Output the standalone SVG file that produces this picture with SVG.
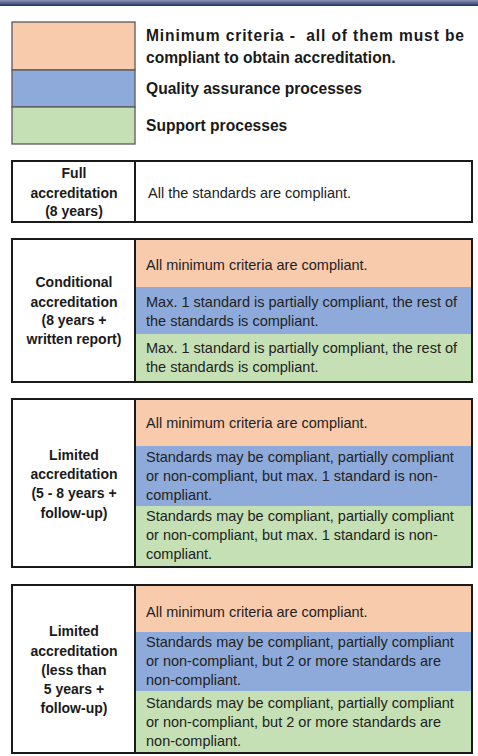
<svg xmlns="http://www.w3.org/2000/svg" width="478" height="756" viewBox="0 0 478 756">
<defs>
<linearGradient id="bar" x1="0" y1="0" x2="0" y2="1">
<stop offset="0" stop-color="#8d97b5"/>
<stop offset="0.6" stop-color="#4a5a85"/>
<stop offset="1" stop-color="#1f3263"/>
</linearGradient>
</defs>
<style>
.bg{fill:#ffffff}
.o{fill:#f8cbad}
.b{fill:#8eaadb}
.g{fill:#c5e0b4}
.frame{fill:none;stroke:#1a1a1a;stroke-width:2}
.div{stroke:#1a1a1a;stroke-width:2}
.lg{stroke:#5a5a5a;stroke-width:1.3}
.leg{font-family:"Liberation Sans",Arial,sans-serif;font-weight:bold;font-size:15.6px;fill:#1a1a1a}
.lab{font-family:"Liberation Sans",Arial,sans-serif;font-weight:bold;font-size:14px;fill:#1a1a1a;text-anchor:middle}
.txt{font-family:"Liberation Sans",Arial,sans-serif;font-size:14.5px;fill:#222222}
</style>
<rect x="0" y="0" width="478" height="756" class="bg"/>
<rect x="0" y="0" width="478" height="6" fill="url(#bar)"/>

<g id="legend">
<rect x="12" y="22" width="123" height="48" class="o lg"/>
<rect x="12" y="70" width="123" height="37" class="b lg"/>
<rect x="12" y="107" width="123" height="37" class="g lg"/>
<text class="leg" x="146" y="41" textLength="318" lengthAdjust="spacing" xml:space="preserve">Minimum criteria -  all of them must be</text>
<text class="leg" x="146" y="63">compliant to obtain accreditation.</text>
<text class="leg" x="146" y="94">Quality assurance processes</text>
<text class="leg" x="146" y="131">Support processes</text>
</g>

<g id="full">
<rect x="12" y="161" width="460" height="61" class="frame"/>
<line x1="135" y1="161" x2="135" y2="222" class="div"/>
<text class="lab" x="74" y="178">Full</text>
<text class="lab" x="74" y="198">accreditation</text>
<text class="lab" x="74" y="216">(8 years)</text>
<text class="txt" x="148" y="198">All the standards are compliant.</text>
</g>

<g id="conditional">
<rect x="135" y="239" width="337" height="48" class="o"/>
<rect x="135" y="287" width="337" height="47" class="b"/>
<rect x="135" y="334" width="337" height="48" class="g"/>
<rect x="12" y="239" width="460" height="143" class="frame"/>
<line x1="135" y1="239" x2="135" y2="382" class="div"/>
<text class="lab" x="74" y="287">Conditional</text>
<text class="lab" x="74" y="307">accreditation</text>
<text class="lab" x="74" y="325">(8 years +</text>
<text class="lab" x="74" y="344">written report)</text>
<text class="txt" x="146" y="270">All minimum criteria are compliant.</text>
<text class="txt" x="146" y="307">Max. 1 standard is partially compliant, the rest of</text>
<text class="txt" x="146" y="326">the standards is compliant.</text>
<text class="txt" x="146" y="353">Max. 1 standard is partially compliant, the rest of</text>
<text class="txt" x="146" y="372">the standards is compliant.</text>
</g>

<g id="limited-5-8">
<rect x="135" y="399" width="337" height="47" class="o"/>
<rect x="135" y="446" width="337" height="60" class="b"/>
<rect x="135" y="506" width="337" height="61" class="g"/>
<rect x="12" y="399" width="460" height="168" class="frame"/>
<line x1="135" y1="399" x2="135" y2="567" class="div"/>
<text class="lab" x="74" y="460">Limited</text>
<text class="lab" x="74" y="479">accreditation</text>
<text class="lab" x="74" y="498">(5 - 8 years +</text>
<text class="lab" x="74" y="518">follow-up)</text>
<text class="txt" x="146" y="428">All minimum criteria are compliant.</text>
<text class="txt" x="146" y="462">Standards may be compliant, partially compliant</text>
<text class="txt" x="146" y="481">or non-compliant, but max. 1 standard is non-</text>
<text class="txt" x="146" y="500">compliant.</text>
<text class="txt" x="146" y="521">Standards may be compliant, partially compliant</text>
<text class="txt" x="146" y="540">or non-compliant, but max. 1 standard is non-</text>
<text class="txt" x="146" y="559">compliant.</text>
</g>

<g id="limited-less-5">
<rect x="135" y="585" width="337" height="47" class="o"/>
<rect x="135" y="632" width="337" height="59" class="b"/>
<rect x="135" y="691" width="337" height="62" class="g"/>
<rect x="12" y="585" width="460" height="168" class="frame"/>
<line x1="135" y1="585" x2="135" y2="753" class="div"/>
<text class="lab" x="74" y="636">Limited</text>
<text class="lab" x="74" y="656">accreditation</text>
<text class="lab" x="74" y="675">(less than</text>
<text class="lab" x="74" y="694">5 years +</text>
<text class="lab" x="74" y="713">follow-up)</text>
<text class="txt" x="146" y="617">All minimum criteria are compliant.</text>
<text class="txt" x="146" y="647">Standards may be compliant, partially compliant</text>
<text class="txt" x="146" y="666">or non-compliant, but 2 or more standards are</text>
<text class="txt" x="146" y="685">non-compliant.</text>
<text class="txt" x="146" y="708">Standards may be compliant, partially compliant</text>
<text class="txt" x="146" y="727">or non-compliant, but 2 or more standards are</text>
<text class="txt" x="146" y="746">non-compliant.</text>
</g>
</svg>
